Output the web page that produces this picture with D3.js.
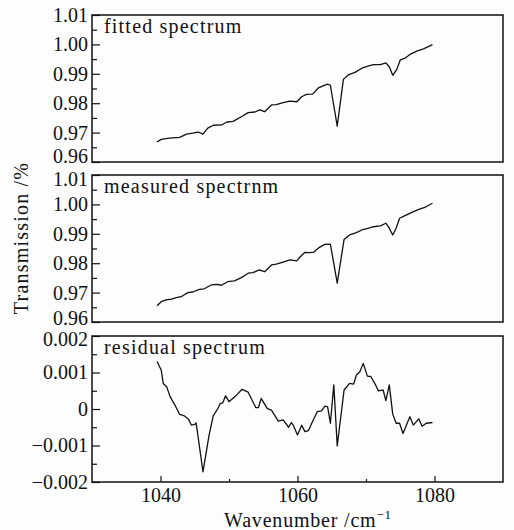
<!DOCTYPE html>
<html>
<head>
<meta charset="utf-8">
<script src="https://cdn.jsdelivr.net/npm/d3@7/dist/d3.min.js"></script>
<style>
  body { margin: 0; background: #fdfdfd; }
  svg text { font-family: "Liberation Serif", "DejaVu Serif", serif !important; fill: #111; }
  .tick text { font-size: 20px; }
  .tick line { stroke: #111; stroke-width: 1.2; }
  .domain { display: none; }
</style>
</head>
<body>
<script>
//chart size
var w = 514, h = 530;

//fitted spectrum (top panel)
var wave1 = [1039.5, 1040.1, 1041.3, 1042.8, 1043.8, 1044.7, 1045.5, 1046.2, 1046.9, 1047.7,
    1048.9, 1049.7, 1050.6, 1051.8, 1052.8, 1053.8, 1054.5, 1055.2, 1056.2, 1056.9,
    1057.9, 1058.9, 1059.9, 1060.6, 1061.3, 1062.2, 1063.0, 1063.8, 1064.4, 1064.8,
    1065.8, 1066.7, 1067.4, 1068.4, 1069.4, 1070.4, 1071.1, 1072.1, 1072.9, 1073.4,
    1073.9, 1074.5, 1075.0, 1075.7, 1076.5, 1077.5, 1078.4, 1079.7];
var fitted = [0.9668, 0.9677, 0.9681, 0.9684, 0.9695, 0.9698, 0.9702, 0.9695, 0.9715, 0.9725,
    0.9726, 0.9736, 0.9738, 0.9754, 0.9768, 0.9770, 0.9777, 0.9771, 0.9794, 0.9795,
    0.9802, 0.9807, 0.9805, 0.9822, 0.9830, 0.9831, 0.9851, 0.9860, 0.9865, 0.9861,
    0.9722, 0.9881, 0.9896, 0.9905, 0.9919, 0.9927, 0.9931, 0.9931, 0.9937, 0.9924,
    0.9895, 0.9915, 0.9947, 0.9953, 0.9967, 0.9978, 0.9985, 0.9999];

//measured spectrum (middle panel)
var wave2 = [1039.5, 1040.1, 1040.8, 1041.6, 1042.3, 1043.0, 1044.0, 1044.7, 1045.7, 1046.4,
    1047.4, 1048.2, 1048.9, 1049.8, 1050.8, 1051.8, 1052.8, 1053.5, 1054.4, 1055.2,
    1056.2, 1056.9, 1057.9, 1058.9, 1059.9, 1060.4, 1061.1, 1061.8, 1062.4, 1063.2,
    1064.0, 1064.8, 1065.8, 1066.8, 1067.6, 1068.6, 1069.4, 1070.4, 1071.1, 1072.1,
    1072.9, 1073.4, 1073.9, 1074.4, 1074.9, 1075.7, 1076.7, 1077.7, 1078.7, 1079.7];
var measured = [0.9655, 0.9669, 0.9675, 0.9678, 0.9683, 0.9686, 0.9700, 0.9702, 0.9711, 0.9713,
    0.9726, 0.9728, 0.9725, 0.9737, 0.9740, 0.9751, 0.9766, 0.9768, 0.9777, 0.9771,
    0.9794, 0.9797, 0.9804, 0.9811, 0.9808, 0.9822, 0.9837, 0.9836, 0.9838, 0.9854,
    0.9864, 0.9865, 0.9732, 0.9881, 0.9896, 0.9904, 0.9913, 0.9919, 0.9924, 0.9927,
    0.9936, 0.9919, 0.9896, 0.9919, 0.9953, 0.9962, 0.9973, 0.9983, 0.9991, 1.0004];

//residual spectrum (bottom panel)
var wave3 = [1039.5, 1040.1, 1040.4, 1040.9, 1041.4, 1042.1, 1042.8, 1043.5, 1044.1, 1044.5,
    1045.0, 1045.2, 1046.2, 1047.1, 1047.7, 1048.4, 1048.7, 1049.1, 1049.5, 1050.0,
    1051.0, 1051.9, 1052.8, 1053.9, 1054.3, 1054.7, 1055.6, 1056.2, 1057.2, 1057.9,
    1058.7, 1059.1, 1059.4, 1060.0, 1060.6, 1061.1, 1061.6, 1062.3, 1062.9, 1063.5,
    1064.0, 1064.4, 1064.8, 1065.3, 1065.8, 1066.8, 1067.6, 1068.2, 1068.6, 1069.1,
    1069.6, 1070.2, 1070.7, 1071.4, 1071.8, 1072.5, 1072.9, 1073.4, 1073.9, 1074.4,
    1074.9, 1075.4, 1076.4, 1076.9, 1077.7, 1078.2, 1078.8, 1079.7];
var residual = [0.00130, 0.00107, 0.00070, 0.00061, 0.00034, 0.00011, -0.00015, -0.00019, -0.00028, -0.00044,
    -0.00042, -0.00038, -0.00172, -0.00071, -0.00019, 0.00002, 0.00015, 0.00017, 0.00036, 0.00020,
    0.00036, 0.00054, 0.00046, 0.00004, 0.00004, 0.00029, 0.00001, -0.00003, -0.00033, -0.00030,
    -0.00050, -0.00037, -0.00045, -0.00071, -0.00045, -0.00062, -0.00059, -0.00030, -0.00007, -0.00005,
    0.00008, 0.00006, -0.00039, 0.00066, -0.00101, 0.00052, 0.00070, 0.00068, 0.00093, 0.00102,
    0.00125, 0.00090, 0.00089, 0.00066, 0.00050, 0.00052, 0.00023, 0.00066, -0.00014, -0.00039,
    -0.00039, -0.00067, -0.00021, -0.00044, -0.00027, -0.00047, -0.00039, -0.00037];

//tick values
var transTicks = [0.96, 0.97, 0.98, 0.99, 1.00, 1.01];
var transMinor = [0.965, 0.975, 0.985, 0.995, 1.005];
var residTicks = [-0.002, -0.001, 0, 0.001, 0.002];
var residMinor = [-0.0015, -0.0005, 0.0005, 0.0015];
var waveTicks = [1040, 1060, 1080];
var waveMinor = [1050, 1070];

var left = 92, right = 503;
var serif = "'Liberation Serif', 'DejaVu Serif', serif";

var svg = d3.select("body")
    .append("svg")
    .attr("width", w)
    .attr("height", h)
    .attr("font-family", serif);

var x = d3.scaleLinear()
    .domain([1030, 1090])
    .range([left, right]);

//one entry per panel; nudge = shift of bottom / top tick label so stacked labels don't collide
var panels = [
    {name: "fitted spectrum", top: 15, bottom: 162, dom: [0.96, 1.01], xs: wave1, ys: fitted,
        ticks: transTicks, minor: transMinor, fmt: d3.format(".2f"), nudgeLo: -6, nudgeHi: 0},
    {name: "measured spectrnm", top: 175, bottom: 322, dom: [0.96, 1.01], xs: wave2, ys: measured,
        ticks: transTicks, minor: transMinor, fmt: d3.format(".2f"), nudgeLo: -4, nudgeHi: 4},
    {name: "residual spectrum", top: 336, bottom: 482, dom: [-0.002, 0.002], xs: wave3, ys: residual,
        ticks: residTicks, minor: residMinor, nudgeLo: 0, nudgeHi: 3,
        fmt: function(d){ return d === 0 ? "0" : d3.format(".3f")(d).replace("-", "\u2212"); }}
];

panels.forEach(function(p, k){
    var y = d3.scaleLinear()
        .domain(p.dom)
        .range([p.bottom, p.top]);

    //minor ticks, inward
    svg.append("g")
        .attr("transform", "translate(" + left + ",0)")
        .call(d3.axisLeft(y).tickValues(p.minor).tickSize(-5).tickFormat(""));

    //major ticks + labels
    var ax = svg.append("g")
        .attr("transform", "translate(" + left + ",0)")
        .call(d3.axisLeft(y).tickValues(p.ticks).tickSize(-8).tickPadding(4).tickFormat(p.fmt))
        .attr("font-family", serif)
        .attr("font-size", 20);

    ax.selectAll(".tick text")
        .attr("y", function(d, i){
            if (i === 0) return p.nudgeLo;
            if (i === p.ticks.length - 1) return p.nudgeHi;
            return 0;
        });

    var line = d3.line()
        .x(function(d){ return x(d[0]); })
        .y(function(d){ return y(d[1]); });

    svg.append("path")
        .datum(d3.zip(p.xs, p.ys))
        .attr("d", line)
        .attr("fill", "none")
        .attr("stroke", "#111")
        .attr("stroke-width", 1.3)
        .attr("stroke-linejoin", "round");

    //frame
    svg.append("rect")
        .attr("x", left)
        .attr("y", p.top)
        .attr("width", right - left)
        .attr("height", p.bottom - p.top)
        .attr("fill", "none")
        .attr("stroke", "#111")
        .attr("stroke-width", 1.5);

    svg.append("text")
        .attr("x", 104)
        .attr("y", p.top + 18)
        .style("font-size", "20px")
        .style("letter-spacing", "1.2px")
        .text(p.name);

    //x axis only on the bottom panel
    if (k === 2) {
        svg.append("g")
            .attr("transform", "translate(0," + p.bottom + ")")
            .call(d3.axisBottom(x).tickValues(waveMinor).tickSize(-3).tickFormat(""));
        svg.append("g")
            .attr("transform", "translate(0," + p.bottom + ")")
            .call(d3.axisBottom(x).tickValues(waveTicks).tickSize(-6).tickPadding(6).tickFormat(d3.format("d")))
            .attr("font-family", serif)
            .attr("font-size", 20);
    }
});

//axis titles
var xTitle = svg.append("text")
    .attr("x", 308)
    .attr("y", 527)
    .attr("text-anchor", "middle")
    .style("font-size", "20px")
    .style("letter-spacing", "0.8px");
xTitle.append("tspan").text("Wavenumber /cm");
xTitle.append("tspan")
    .attr("dy", -8)
    .style("font-size", "13px")
    .text("\u22121");

svg.append("text")
    .attr("transform", "translate(28,238) rotate(-90)")
    .attr("text-anchor", "middle")
    .style("font-size", "20px")
    .style("letter-spacing", "1.2px")
    .text("Transmission /%");
</script>
</body>
</html>
